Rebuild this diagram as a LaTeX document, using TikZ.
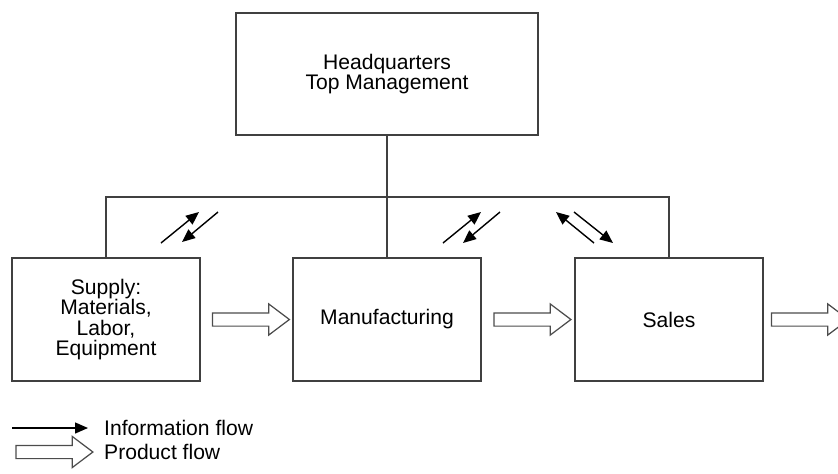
\documentclass[tikz,border=0pt]{standalone}
\usepackage{fontspec}
\setmainfont{Liberation Sans}
\usetikzlibrary{arrows.meta, positioning, shapes, calc}

\begin{document}
\begin{tikzpicture}[
    font=\fontsize{12}{11.6}\selectfont,
    box/.style={draw=black!75, line width=0.9pt, align=center, minimum height=2.46cm, minimum width=3.76cm},
    bus/.style={draw=black!75, line width=0.9pt},
    info/.style={-{Triangle[length=2.6mm, width=2.2mm]}, line width=0.8pt},
    prod/.style={single arrow, draw=black!70, line width=0.7pt, inner xsep=0pt, inner ysep=0.12cm,
        single arrow head extend=0.18cm, single arrow tip angle=74, minimum height=1.54cm}
]
    \useasboundingbox (0,0) rectangle (16.76,-9.46);

    \node[box, minimum width=6.04cm, minimum height=2.44cm] (hq) at (7.74, -1.48) {Headquarters\\Top Management};

    \node[box] (supply) at (2.12, -6.39) {Supply:\\Materials,\\Labor,\\Equipment};
    \node[box] (manu) at (7.74, -6.39) {Manufacturing};
    \node[box] (sales) at (13.38, -6.39) {Sales};

    % reporting lines
    \coordinate (bus) at (7.74, -3.94);
    \draw[bus] (hq) -- (manu);
    \draw[bus] (supply.north) |- (bus) -| (sales.north);

    % information flow
    \coordinate (su) at (3.22, -4.86);
    \coordinate (sd) at (4.36, -4.24);
    \draw[info] (su) -- ++(0.76, 0.62);
    \draw[info] (sd) -- ++(-0.72, -0.60);

    \coordinate (mu) at (8.86, -4.86);
    \coordinate (md) at (10.0, -4.24);
    \draw[info] (mu) -- ++(0.76, 0.62);
    \draw[info] (md) -- ++(-0.74, -0.62);

    \coordinate (au) at (11.88, -4.86);
    \coordinate (ad) at (11.48, -4.24);
    \draw[info] (au) -- ++(-0.76, 0.62);
    \draw[info] (ad) -- ++(0.78, -0.62);

    % product flow
    \node[prod] (p1) at ($(supply.east)!0.5!(manu.west)$) {};
    \node[prod] (p2) at ($(manu.east)!0.5!(sales.west)$) {};
    \node[prod, right=0.14cm of sales] (p3) {};

    % legend
    \coordinate (li) at (0.24, -8.56);
    \node[anchor=west] (lit) at (1.96, -8.56) {Information flow};
    \draw[info, shorten >=0.2cm] (li) -- (lit.west);
    \node[prod] (lp) at (1.0, -9.04) {};
    \node[anchor=west] (lpt) at (1.96, -9.04) {Product flow};
\end{tikzpicture}
\end{document}
